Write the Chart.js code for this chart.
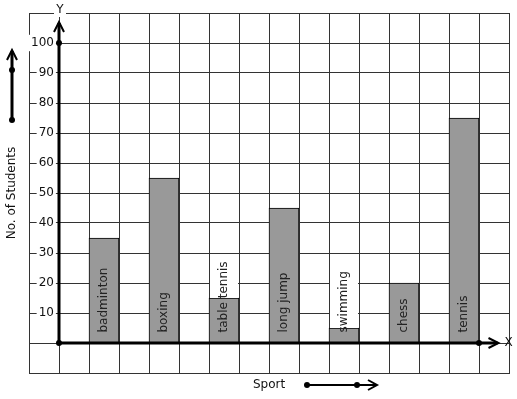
<!DOCTYPE html>
<html>
<head>
<meta charset="utf-8">
<script src="https://cdn.jsdelivr.net/npm/chart.js@4.4.1/dist/chart.umd.min.js"></script>
<style>
    body { margin: 0; background: #fff; }
</style>
</head>
<body>
<canvas id="sportChart" width="517" height="399"></canvas>
<script>
// data
const sports = ['badminton', 'boxing', 'table tennis', 'long jump', 'swimming', 'chess', 'tennis'];
const students = [35, 55, 15, 45, 5, 20, 75];
// bars sit on every other square of the grid paper
const slots = [1.5, 3.5, 5.5, 7.5, 9.5, 11.5, 13.5];

const gridColor = '#333';
const font = '12px "DejaVu Sans"';

Chart.defaults.font.family = '"DejaVu Sans"';
Chart.defaults.font.size = 12;
Chart.defaults.color = '#111';

// draws the text in the bars, the thick axes and the little arrows
const decorations = {
    id: 'decorations',
    afterDatasetsDraw(chart) {
        const {ctx, scales: {x, y}} = chart;
        const meta = chart.getDatasetMeta(0);
        ctx.save();
        ctx.font = font;

        // labels up the bars
        meta.data.forEach((bar, i) => {
            const text = sports[i];
            const w = ctx.measureText(text).width;
            const start = bar.base - 10;
            const top = start - w;
            if (top < bar.y) {
                ctx.fillStyle = '#fff';
                ctx.fillRect(bar.x - 14, top - 2, 28, bar.y - top + 2);
            }
            ctx.save();
            ctx.translate(bar.x, start);
            ctx.rotate(-Math.PI / 2);
            ctx.fillStyle = '#222';
            ctx.textAlign = 'left';
            ctx.textBaseline = 'middle';
            ctx.fillText(text, 0, 0);
            ctx.restore();
        });

        const ox = x.getPixelForValue(0);
        const oy = y.getPixelForValue(0);
        const yTip = y.getPixelForValue(107);
        const xTip = x.getPixelForValue(14.65);

        ctx.strokeStyle = '#000';
        ctx.fillStyle = '#000';
        ctx.lineWidth = 3;
        ctx.beginPath();
        ctx.moveTo(ox, oy);
        ctx.lineTo(ox, yTip + 1);
        ctx.moveTo(ox, oy);
        ctx.lineTo(xTip - 1, oy);
        ctx.stroke();

        ctx.lineWidth = 2;
        ctx.beginPath();
        ctx.moveTo(ox - 5, yTip + 10);
        ctx.lineTo(ox, yTip);
        ctx.lineTo(ox + 5, yTip + 10);
        ctx.moveTo(xTip - 10, oy - 5);
        ctx.lineTo(xTip, oy);
        ctx.lineTo(xTip - 10, oy + 5);
        ctx.stroke();

        [[ox, oy], [ox, y.getPixelForValue(100)], [x.getPixelForValue(14), oy]].forEach(([px, py]) => {
            ctx.beginPath();
            ctx.arc(px, py, 3, 0, Math.PI * 2);
            ctx.fill();
        });

        // axis letters
        ctx.textAlign = 'center';
        ctx.textBaseline = 'middle';
        ctx.fillStyle = '#fff';
        ctx.fillRect(ox - 5, 3, 12, 14);
        ctx.fillStyle = '#111';
        ctx.fillText('Y', ox + 1, 10);
        ctx.fillText('X', xTip + 10, oy);

        // arrow beside the y title
        ctx.fillStyle = '#000';
        ctx.lineWidth = 3;
        ctx.beginPath();
        ctx.moveTo(12, 120);
        ctx.lineTo(12, 51);
        ctx.stroke();
        ctx.lineWidth = 2;
        ctx.beginPath();
        ctx.moveTo(7, 60);
        ctx.lineTo(12, 50);
        ctx.lineTo(17, 60);
        ctx.stroke();
        [[12, 120], [12, 70]].forEach(([px, py]) => {
            ctx.beginPath();
            ctx.arc(px, py, 3, 0, Math.PI * 2);
            ctx.fill();
        });

        // arrow after "Sport"
        ctx.beginPath();
        ctx.moveTo(307, 385);
        ctx.lineTo(376, 385);
        ctx.moveTo(368, 380);
        ctx.lineTo(377, 385);
        ctx.lineTo(368, 390);
        ctx.stroke();
        [[307, 385], [357, 385]].forEach(([px, py]) => {
            ctx.beginPath();
            ctx.arc(px, py, 3, 0, Math.PI * 2);
            ctx.fill();
        });
        ctx.restore();
    }
};

const ctx = document.getElementById('sportChart').getContext('2d');
new Chart(ctx, {
    type: 'bar',
    data: {
        datasets: [{
            data: slots.map((s, i) => ({x: s, y: students[i]})),
            backgroundColor: '#999999',
            borderColor: '#000',
            borderWidth: 1,
            categoryPercentage: 1,
            barPercentage: 1
        }]
    },
    options: {
        responsive: false,
        animation: false,
        layout: {padding: {top: 13, right: 8, left: 0, bottom: 0}},
        plugins: {legend: {display: false}, tooltip: {enabled: false}},
        scales: {
            x: {
                type: 'linear',
                min: -1,
                max: 15,
                offset: false,
                grid: {offset: false, color: gridColor, drawTicks: false},
                border: {color: gridColor},
                ticks: {display: false, stepSize: 1, maxTicksLimit: 20},
                title: {display: true, text: 'Sport', color: '#111', padding: {top: 0, bottom: 7}},
                afterFit: (scale) => { scale.height = 26; }
            },
            y: {
                min: -10,
                max: 110,
                grid: {color: gridColor, drawTicks: false},
                border: {color: gridColor},
                ticks: {
                    stepSize: 10,
                    mirror: true,
                    crossAlign: 'far',
                    padding: 2,
                    color: '#111',
                    callback: (v) => (v >= 10 && v <= 100 ? v : ''),
                    showLabelBackdrop: (c) => c.tick.value >= 10 && c.tick.value <= 100,
                    backdropColor: '#fff',
                    backdropPadding: {top: 1, bottom: 1, left: 2, right: 2}
                },
                title: {display: true, text: 'No. of Students', color: '#111', padding: {top: 5, bottom: 0}},
                afterFit: (scale) => { scale.width = 29; }
            }
        }
    },
    plugins: [decorations]
});
</script>
</body>
</html>
